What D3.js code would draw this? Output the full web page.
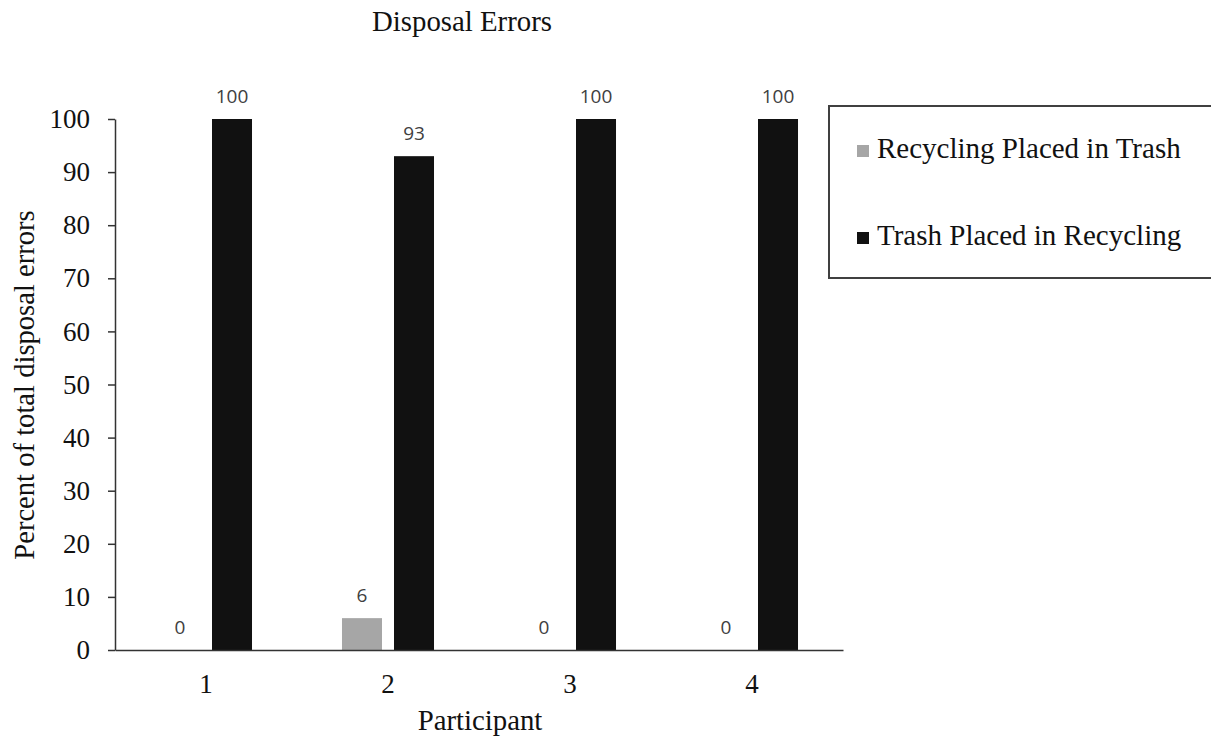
<!DOCTYPE html>
<html>
<head>
<meta charset="utf-8">
<script src="https://cdn.jsdelivr.net/npm/d3@7/dist/d3.min.js"></script>
<style>
  html, body { margin: 0; padding: 0; background: #fff; }
  svg { display: block; }
</style>
</head>
<body>
<svg id="chart" width="1211" height="742"></svg>
<script>
const participants = ["1", "2", "3", "4"];
const seriesNames = ["Recycling Placed in Trash", "Trash Placed in Recycling"];
const recyclingInTrash = [0, 6, 0, 0];
const trashInRecycling = [100, 93, 100, 100];
const yTicks = [0, 10, 20, 30, 40, 50, 60, 70, 80, 90, 100];
const seriesColors = ["#a6a6a6", "#111111"];

const serif = "'Liberation Serif', 'Times New Roman', Times, serif";
const svg = d3.select("#chart");

const x = d3.scaleBand().domain(participants).range([115, 843]).paddingInner(0).paddingOuter(0);
const xSub = d3.scaleBand().domain(seriesNames).range([0, x.bandwidth()])
  .paddingInner(0.2308).paddingOuter(0.865);
const y = d3.scaleLinear().domain([0, 100]).range([650, 119]);

const seriesData = [recyclingInTrash, trashInRecycling];

// Title
svg.append("text").attr("x", 462).attr("y", 31).attr("text-anchor", "middle")
  .style("font-family", serif).style("font-size", "28.8px").attr("fill", "#111")
  .text("Disposal Errors");

// Bars
const g = svg.append("g");
participants.forEach((p, i) => {
  seriesNames.forEach((s, j) => {
    const v = seriesData[j][i];
    g.append("rect")
      .attr("x", x(p) + xSub(s))
      .attr("y", y(v))
      .attr("width", xSub.bandwidth())
      .attr("height", y(0) - y(v))
      .attr("fill", seriesColors[j]);
    g.append("text")
      .attr("x", x(p) + xSub(s) + xSub.bandwidth() / 2)
      .attr("y", y(v) - 16)
      .attr("text-anchor", "middle")
      .style("font-family", "'Open Sans', 'DejaVu Sans', sans-serif")
      .style("font-size", "19px")
      .attr("fill", "#404040")
      .text(v);
  });
});

// Y axis
const yAxis = svg.append("g").attr("transform", "translate(115,0)")
  .call(d3.axisLeft(y).tickValues(yTicks).tickSize(7).tickSizeOuter(0).tickPadding(18));
yAxis.selectAll("text").style("font-family", serif).style("font-size", "27px").attr("fill", "#111");
yAxis.selectAll("line, path").attr("stroke", "#333").attr("stroke-width", 1.5);

// X axis
const xAxis = svg.append("g").attr("transform", "translate(0,650)")
  .call(d3.axisBottom(x).tickSize(0).tickSizeOuter(0).tickPadding(24));
xAxis.selectAll("text").style("font-family", serif).style("font-size", "27px").attr("fill", "#111");
xAxis.select("path").attr("stroke", "#333").attr("stroke-width", 1.5);

// Axis titles
svg.append("text").attr("x", 480).attr("y", 730).attr("text-anchor", "middle")
  .style("font-family", serif).style("font-size", "28.8px").attr("fill", "#111")
  .text("Participant");
svg.append("text").attr("transform", "translate(34,385) rotate(-90)").attr("text-anchor", "middle")
  .style("font-family", serif).style("font-size", "28.6px").attr("fill", "#111")
  .text("Percent of total disposal errors");

// Legend
const legend = svg.append("g");
legend.append("rect").attr("x", 829).attr("y", 106).attr("width", 420).attr("height", 172)
  .attr("fill", "none").attr("stroke", "#404040").attr("stroke-width", 2);
const legendBaselines = [158, 245];
seriesNames.forEach((s, j) => {
  legend.append("rect").attr("x", 857).attr("y", legendBaselines[j] - 13)
    .attr("width", 12).attr("height", 12).attr("fill", seriesColors[j]);
  legend.append("text").attr("x", 877).attr("y", legendBaselines[j])
    .style("font-family", serif).style("font-size", "29px").attr("fill", "#111")
    .text(s);
});
</script>
</body>
</html>
